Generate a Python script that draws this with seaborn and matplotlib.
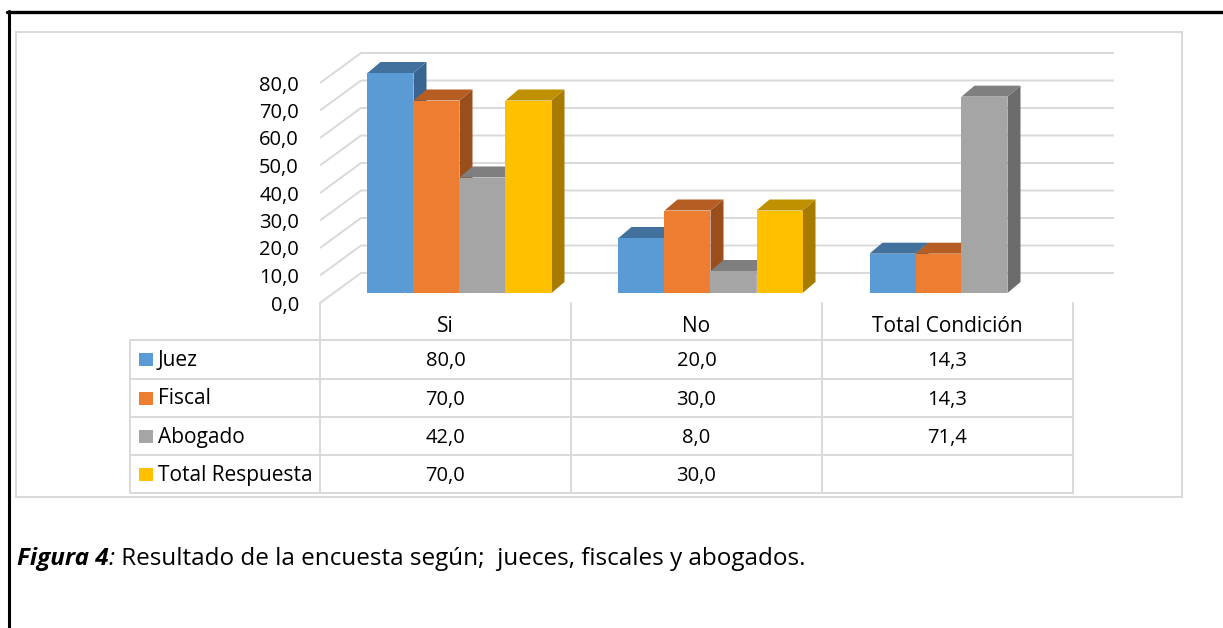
import pandas as pd
import seaborn as sns
import matplotlib
matplotlib.use("Agg")
import matplotlib.pyplot as plt
from matplotlib.patches import Polygon, Rectangle
from matplotlib.lines import Line2D

# Data
categories = ["Si", "No", "Total Condición"]
series = ["Juez", "Fiscal", "Abogado", "Total Respuesta"]
juez = [80.0, 20.0, 14.3]
fiscal = [70.0, 30.0, 14.3]
abogado = [42.0, 8.0, 71.4]
total_respuesta = [70.0, 30.0, None]
y_ticks = [0, 10, 20, 30, 40, 50, 60, 70, 80]

front_colors = ["#5B9BD5", "#ED7D31", "#A5A5A5", "#FFC000"]
top_colors = ["#41719C", "#B65D23", "#7F7F7F", "#BF9000"]
side_colors = ["#3A6590", "#9A4E1C", "#6C6C6C", "#A67B00"]
grid_color = "#D9D9D9"

values = [juez, fiscal, abogado, total_respuesta]
rows = []
for s, vals in zip(series, values):
    for c, v in zip(categories, vals):
        if v is not None:
            rows.append({"cat": c, "serie": s, "valor": v})
df = pd.DataFrame(rows)

sns.set_style("white")
plt.rcParams["font.family"] = ["Open Sans", "DejaVu Sans"]
NUM_FS = 14.5
TXT_FS = 15
CAP_FS = 17.5

W, H = 1223, 628
fig = plt.figure(figsize=(W / 100, H / 100), dpi=100)

# pixel layout -> data units
PX_X = 251.0   # px per category
PX_Y = 2.75    # px per value unit
X0, Y0 = 459.5, 293.0


def xd(px):
    return (px - X0) / PX_X


def yd(px):
    return (Y0 - px) / PX_Y


box = (16, 32, 1182, 497)
ax = fig.add_axes([box[0] / W, 1 - box[3] / H, (box[2] - box[0]) / W, (box[3] - box[1]) / H])

sns.barplot(data=df, x="cat", y="valor", hue="serie", order=categories, hue_order=series,
            palette=front_colors, width=4 * 46 / PX_X, dodge=True, legend=False,
            errorbar=None, saturation=1, linewidth=0, ax=ax)

ax.set_xlim(xd(box[0]), xd(box[2]))
ax.set_ylim(yd(box[3]), yd(box[1]))
ax.axis("off")

# 3d offsets
DX, DY = 13 / PX_X, 11 / PX_Y      # bar depth
FX, FY = -14 / PX_X, -10 / PX_Y    # floor front
BX, BY = 27 / PX_X, 20 / PX_Y      # back wall

# walls / gridlines
for v in y_ticks:
    ax.plot([-0.5 + FX, -0.5 + BX, 2.5 + BX], [v + FY, v + BY, v + BY],
            color=grid_color, lw=1.4, zorder=0, solid_capstyle="butt")
    ax.text(-0.5 + FX - 21 / PX_X, v + FY - 2.5 / PX_Y, f"{v:.1f}".replace(".", ","),
            ha="right", va="center", fontsize=NUM_FS, color="black")

# sides and tops of the bars
bars = []
for k, cont in enumerate(ax.containers):
    for p in cont.patches:
        if p.get_height() == p.get_height():
            bars.append((p.get_x(), k, p))
bars.sort(key=lambda b: b[0])
for n, (x, k, p) in enumerate(bars):
    w, h = p.get_width(), p.get_height()
    z = 2 + 3 * n
    side = Polygon([(x + w, 0), (x + w + DX, DY), (x + w + DX, h + DY), (x + w, h)],
                   closed=True, facecolor=side_colors[k], edgecolor="none", zorder=z)
    top = Polygon([(x, h), (x + w, h), (x + w + DX, h + DY), (x + DX, h + DY)],
                  closed=True, facecolor=top_colors[k], edgecolor="none", zorder=z + 1)
    ax.add_patch(side)
    ax.add_patch(top)
    p.set_zorder(z + 2)

# data table
row_px = [340, 379, 417, 455, 493]
col_x = [j - 0.5 + FX for j in range(4)]
for cx in col_x:
    ax.plot([cx, cx], [FY, yd(row_px[-1])], color=grid_color, lw=1.4, zorder=1)
ax.plot([xd(130), xd(130)], [yd(row_px[0]), yd(row_px[-1])], color=grid_color, lw=1.4, zorder=1)
for rp in row_px:
    ax.plot([xd(130), col_x[-1]], [yd(rp), yd(rp)], color=grid_color, lw=1.4, zorder=1)

for i, c in enumerate(categories):
    ax.text(i + FX, yd(326), c, ha="center", va="center", fontsize=TXT_FS, color="black")

for r, (s, vals) in enumerate(zip(series, values)):
    yc = yd((row_px[r] + row_px[r + 1]) / 2)
    ax.add_patch(Rectangle((xd(139), yc - 6.5 / PX_Y), 14 / PX_X, 13 / PX_Y,
                           facecolor=front_colors[r], edgecolor="none", zorder=2))
    ax.text(xd(158), yc - 1 / PX_Y, s, ha="left", va="center", fontsize=TXT_FS, color="black")
    for i, v in enumerate(vals):
        if v is not None:
            ax.text(i + FX, yc - 1.5 / PX_Y, f"{v:.1f}".replace(".", ","), ha="center",
                    va="center", fontsize=NUM_FS, color="black")

# chart area border and page borders
fig.add_artist(Rectangle((box[0] / W, 1 - box[3] / H), (box[2] - box[0]) / W, (box[3] - box[1]) / H,
                         transform=fig.transFigure, fill=False, edgecolor=grid_color, lw=1.4))
fig.add_artist(Line2D([7 / W, 1], [1 - 11.5 / H, 1 - 11.5 / H], transform=fig.transFigure,
                      color="black", lw=2.4))
fig.add_artist(Line2D([8.5 / W, 8.5 / W], [0, 1 - 10.5 / H], transform=fig.transFigure,
                      color="black", lw=2.2))

# caption
t1 = fig.text(17 / W, 1 - 565 / H, "Figura 4", fontsize=CAP_FS, weight="bold", style="italic",
              va="baseline", color="black")
cap2 = ax.annotate(":", xy=(1, 0), xycoords=t1, va="bottom", ha="left", fontsize=CAP_FS,
                   style="italic", color="black", annotation_clip=False)
cap3 = ax.annotate(" Resultado de la encuesta según;  jueces, fiscales y abogados.", xy=(1, 0),
                   xycoords=cap2, va="bottom", ha="left", fontsize=CAP_FS, color="black",
                   annotation_clip=False)

fig.savefig("out.png", dpi=100)
